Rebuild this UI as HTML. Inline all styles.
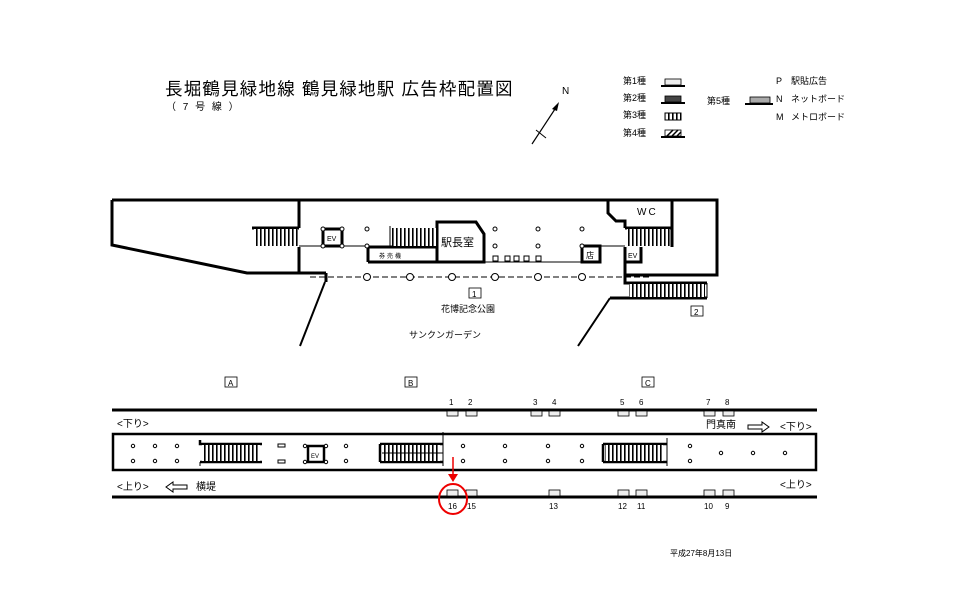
<!DOCTYPE html>
<html><head><meta charset="utf-8"><style>
html,body{margin:0;padding:0;background:#fff}
svg{display:block}
text{font-family:"Liberation Sans","Noto Sans CJK JP",sans-serif;fill:#000}
</style></head><body>
<svg width="960" height="605" viewBox="0 0 960 605" xmlns="http://www.w3.org/2000/svg">
<defs>
<pattern id="st" width="4" height="10" patternUnits="userSpaceOnUse"><rect width="4" height="10" fill="#fff"/><rect width="1.6" height="10" fill="#000"/></pattern>
</defs>
<text x="165" y="95" font-size="17.5" letter-spacing="1.2">長堀鶴見緑地線  鶴見緑地駅  広告枠配置図</text>
<text x="166" y="110" font-size="10" letter-spacing="2">（ 7 号 線 ）</text>
<text x="562" y="94" font-size="10">N</text>
<line x1="532" y1="144" x2="557" y2="106" stroke="#000" stroke-width="1.2"/>
<polygon points="559,102 552,109 557,111" fill="#000"/>
<line x1="536" y1="130" x2="546" y2="138" stroke="#000" stroke-width="1"/>
<g font-size="9">
<text x="623" y="84">第1種</text><text x="623" y="101">第2種</text><text x="623" y="118">第3種</text><text x="623" y="136">第4種</text>
<text x="707" y="104">第5種</text>
<text x="776" y="84">P</text><text x="791" y="84">駅貼広告</text>
<text x="776" y="102">N</text><text x="791" y="102">ネットボード</text>
<text x="776" y="120">M</text><text x="791" y="120">メトロボード</text>
</g>
<rect x="665" y="79" width="16" height="6" fill="#eee" stroke="#000" stroke-width="0.8"/><line x1="661" y1="86" x2="685" y2="86" stroke="#000" stroke-width="2"/>
<rect x="665" y="96" width="16" height="6" fill="#444" stroke="#000" stroke-width="0.8"/><line x1="661" y1="103" x2="685" y2="103" stroke="#000" stroke-width="2"/>
<rect x="665" y="113" width="16" height="7" fill="url(#st)" stroke="#000" stroke-width="1"/>
<rect x="665" y="130" width="16" height="6" fill="#fff" stroke="#000" stroke-width="0.8"/>
<path d="M667 136 L673 130 M672 136 L678 130 M677 136 L681 132" stroke="#000" stroke-width="1.5"/>
<line x1="661" y1="137" x2="685" y2="137" stroke="#000" stroke-width="2"/>
<rect x="750" y="97" width="20" height="6" fill="#aaa" stroke="#000" stroke-width="0.8"/><line x1="745" y1="104" x2="773" y2="104" stroke="#000" stroke-width="2"/>

<g fill="none" stroke="#000" stroke-width="3">
<polyline points="299,228 299,200 717,200 717,275 625,275"/>
<polyline points="112,200 299,200"/>
<polyline points="112,200 112,245 247,273 299,273 299,247"/>
<line x1="299" y1="273" x2="326" y2="273"/>
<polyline points="326,273 326,282"/>
<line x1="325" y1="282" x2="300" y2="346" stroke-width="2"/>
<polyline points="608,200 608,213 616,221 625,221 625,228"/>
<line x1="672" y1="200" x2="672" y2="247"/>
<polyline points="252,228 299,228 M252,247 299,247 M252,228 252,247"/>
<polyline points="625,247 625,283 707,283"/>
<polyline points="610,298 707,298"/>
<line x1="610" y1="298" x2="578" y2="346" stroke-width="2"/>
<rect x="323" y="229" width="19" height="17"/>
<polyline points="368,262 368,247 437,247 437,262 368,262"/>
<polyline points="437,262 437,222 476,222 484,234 484,262 437,262"/>
<rect x="582" y="246" width="18" height="16"/>
<polyline points="625,247 625,262 641,262 641,247"/>
<polyline points="625,228 672,228 M625,247 672,247"/>
</g>
<rect x="254" y="229" width="44" height="17" fill="url(#st)"/>
<rect x="392" y="228" width="44" height="18" fill="url(#st)"/>
<line x1="390" y1="226" x2="390" y2="246" stroke="#000"/>
<rect x="627" y="229" width="43" height="17" fill="url(#st)"/>
<rect x="629" y="284" width="76" height="13" fill="url(#st)"/>
<line x1="707" y1="283" x2="707" y2="298" stroke="#000"/>
<line x1="299" y1="246" x2="367" y2="246" stroke="#000"/>
<line x1="484" y1="262" x2="582" y2="262" stroke="#000"/>
<line x1="600" y1="246" x2="625" y2="246" stroke="#000"/>
<line x1="310" y1="277" x2="650" y2="277" stroke="#000" stroke-dasharray="6,3"/>
<g fill="#fff" stroke="#000" stroke-width="1">
<circle cx="323" cy="229" r="2"/><circle cx="342" cy="229" r="2"/><circle cx="367" cy="229" r="2"/>
<circle cx="323" cy="246" r="2"/><circle cx="342" cy="246" r="2"/><circle cx="367" cy="246" r="2"/>
<circle cx="495" cy="229" r="2"/><circle cx="538" cy="229" r="2"/><circle cx="582" cy="229" r="2"/>
<circle cx="495" cy="246" r="2"/><circle cx="538" cy="246" r="2"/><circle cx="582" cy="246" r="2"/>
<circle cx="367" cy="277" r="3.5"/><circle cx="410" cy="277" r="3.5"/><circle cx="452" cy="277" r="3.5"/>
<circle cx="495" cy="277" r="3.5"/><circle cx="538" cy="277" r="3.5"/><circle cx="582" cy="277" r="3.5"/>
<rect x="493" y="256" width="5" height="5"/><rect x="505" y="256" width="5" height="5"/><rect x="514" y="256" width="5" height="5"/><rect x="524" y="256" width="5" height="5"/><rect x="536" y="256" width="5" height="5"/>
</g>
<g font-size="8">
<text x="327" y="241" font-size="7">EV</text>
<text x="628" y="258" font-size="7">EV</text>
<text x="379" y="258" font-size="6" letter-spacing="2">券売機</text>
<text x="441" y="246" font-size="11">駅長室</text>
<text x="586" y="258" font-size="8">店</text>
<text x="637" y="215" font-size="10" letter-spacing="2">WC</text>
<rect x="469" y="288" width="12" height="10" fill="none" stroke="#000" stroke-width="0.8"/><text x="472" y="297">1</text>
<rect x="691" y="306" width="12" height="10" fill="none" stroke="#000" stroke-width="0.8"/><text x="694" y="315">2</text>
<text x="441" y="312" font-size="9">花博記念公園</text>
<text x="409" y="338" font-size="9">サンクンガーデン</text>
<rect x="225" y="377" width="12" height="10" fill="none" stroke="#000" stroke-width="0.8"/><text x="228" y="386">A</text>
<rect x="405" y="377" width="12" height="10" fill="none" stroke="#000" stroke-width="0.8"/><text x="408" y="386">B</text>
<rect x="642" y="377" width="12" height="10" fill="none" stroke="#000" stroke-width="0.8"/><text x="645" y="386">C</text>
</g>

<line x1="112" y1="410" x2="817" y2="410" stroke="#000" stroke-width="3"/>
<line x1="112" y1="497" x2="817" y2="497" stroke="#000" stroke-width="3"/>
<rect x="113" y="434" width="703" height="36" fill="none" stroke="#000" stroke-width="2.5"/>
<g fill="#eee" stroke="#000" stroke-width="0.8">
<rect x="447" y="411" width="11" height="5"/><rect x="466" y="411" width="11" height="5"/>
<rect x="531" y="411" width="11" height="5"/><rect x="549" y="411" width="11" height="5"/>
<rect x="618" y="411" width="11" height="5"/><rect x="636" y="411" width="11" height="5"/>
<rect x="704" y="411" width="11" height="5"/><rect x="723" y="411" width="11" height="5"/>
<rect x="447" y="490" width="11" height="6"/><rect x="466" y="490" width="11" height="6"/>
<rect x="549" y="490" width="11" height="6"/>
<rect x="618" y="490" width="11" height="6"/><rect x="636" y="490" width="11" height="6"/>
<rect x="704" y="490" width="11" height="6"/><rect x="723" y="490" width="11" height="6"/>
</g>
<g font-size="8">
<text x="449" y="405">1</text><text x="468" y="405">2</text>
<text x="533" y="405">3</text><text x="552" y="405">4</text>
<text x="620" y="405">5</text><text x="639" y="405">6</text>
<text x="706" y="405">7</text><text x="725" y="405">8</text>
<text x="448" y="509">16</text><text x="467" y="509">15</text><text x="549" y="509">13</text>
<text x="618" y="509">12</text><text x="637" y="509">11</text><text x="704" y="509">10</text><text x="725" y="509">9</text>
</g>
<g font-size="10">
<text x="117" y="427">&lt;下り&gt;</text>
<text x="706" y="428">門真南</text>
<text x="780" y="430">&lt;下り&gt;</text>
<text x="117" y="490">&lt;上り&gt;</text>
<text x="196" y="490">横堤</text>
<text x="780" y="488">&lt;上り&gt;</text>
</g>
<path d="M748 425 L762 425 L762 422 L769 427 L762 432 L762 429 L748 429 Z" fill="#fff" stroke="#000"/>
<path d="M187 485 L173 485 L173 482 L166 487 L173 492 L173 489 L187 489 Z" fill="#fff" stroke="#000"/>
<g stroke="#000" fill="none" stroke-width="2.5">
<polyline points="200,440 200,444 262,444"/><line x1="200" y1="462" x2="262" y2="462"/><line x1="200" y1="462" x2="200" y2="466" stroke-width="1"/>
<line x1="380" y1="444" x2="443" y2="444"/><line x1="380" y1="462" x2="443" y2="462"/><line x1="380" y1="444" x2="380" y2="462"/>
<line x1="603" y1="444" x2="667" y2="444"/><line x1="603" y1="462" x2="667" y2="462"/><line x1="603" y1="444" x2="603" y2="462"/>
<rect x="308" y="446" width="16" height="16"/>
</g>
<rect x="202" y="445" width="58" height="16" fill="url(#st)"/>
<rect x="382" y="445" width="58" height="16" fill="url(#st)"/>
<rect x="605" y="445" width="58" height="16" fill="url(#st)"/>
<line x1="382" y1="453" x2="443" y2="453" stroke="#000"/>
<line x1="443" y1="432" x2="443" y2="466" stroke="#000"/>
<line x1="667" y1="438" x2="667" y2="466" stroke="#000"/>
<text x="311" y="458" font-size="6">EV</text>
<g fill="#fff" stroke="#000" stroke-width="1">
<rect x="278" y="444" width="7" height="3"/><rect x="278" y="460" width="7" height="3"/>
<circle cx="133" cy="446" r="1.7"/><circle cx="155" cy="446" r="1.7"/><circle cx="177" cy="446" r="1.7"/>
<circle cx="133" cy="461" r="1.7"/><circle cx="155" cy="461" r="1.7"/><circle cx="177" cy="461" r="1.7"/>
<circle cx="305" cy="446" r="1.7"/><circle cx="326" cy="446" r="1.7"/><circle cx="346" cy="446" r="1.7"/>
<circle cx="305" cy="462" r="1.7"/><circle cx="326" cy="462" r="1.7"/><circle cx="346" cy="461" r="1.7"/>
<circle cx="463" cy="446" r="1.7"/><circle cx="505" cy="446" r="1.7"/><circle cx="548" cy="446" r="1.7"/><circle cx="582" cy="446" r="1.7"/>
<circle cx="463" cy="461" r="1.7"/><circle cx="505" cy="461" r="1.7"/><circle cx="548" cy="461" r="1.7"/><circle cx="582" cy="461" r="1.7"/>
<circle cx="690" cy="446" r="1.7"/><circle cx="690" cy="461" r="1.7"/>
<circle cx="721" cy="453" r="1.7"/><circle cx="753" cy="453" r="1.7"/><circle cx="785" cy="453" r="1.7"/>
</g>
<line x1="453" y1="457" x2="453" y2="476" stroke="#e00" stroke-width="1.5"/>
<polygon points="448,474 458,474 453,482" fill="#e00"/>
<ellipse cx="453" cy="499" rx="14" ry="15" fill="none" stroke="#e00" stroke-width="2"/>
<text x="670" y="556" font-size="8">平成27年8月13日</text>
</svg>
</body></html>
